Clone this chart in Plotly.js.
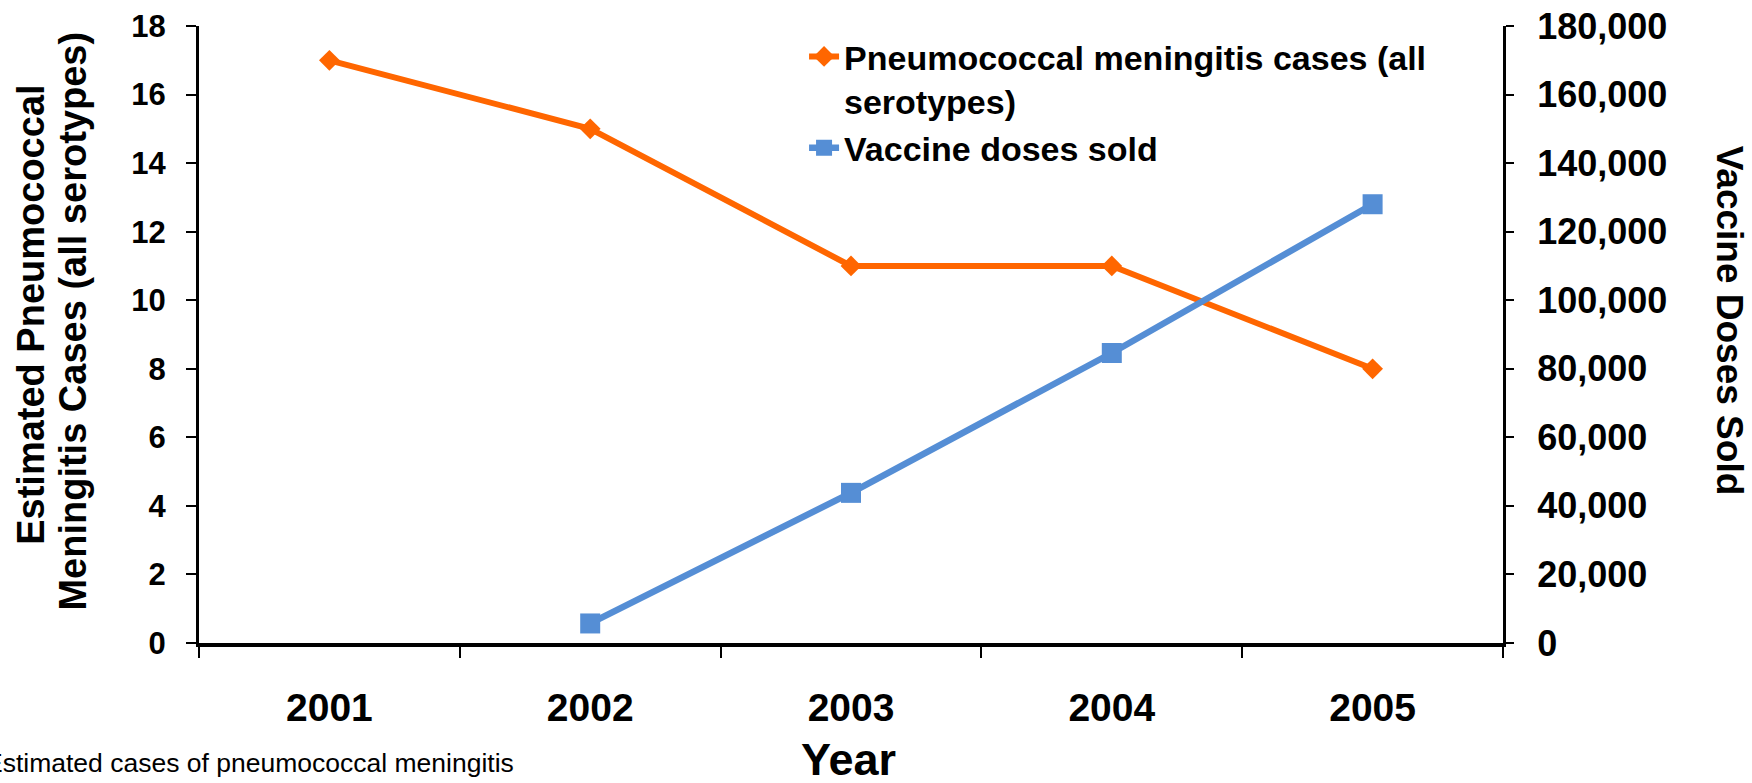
<!DOCTYPE html>
<html>
<head>
<meta charset="utf-8">
<script src="https://cdn.plot.ly/plotly-3.0.1.min.js"></script>
<style>
  html, body { margin: 0; padding: 0; background: #ffffff; }
  #chart { width: 1752px; height: 783px; }
</style>
</head>
<body>
<div id="chart"></div>
<script>
// Data
const years = ["2001", "2002", "2003", "2004", "2005"];
const meningitisCases = [17, 15, 11, 11, 8];
const vaccineYears = ["2002", "2003", "2004", "2005"];
const vaccineDoses = [5700, 43800, 84600, 128000];

const seriesNames = ["Pneumococcal meningitis cases (all<br>serotypes)", "Vaccine doses sold"];
const leftTicks = [0, 2, 4, 6, 8, 10, 12, 14, 16, 18];
const rightTicks = [0, 20000, 40000, 60000, 80000, 100000, 120000, 140000, 160000, 180000];
const leftTitleLines = ["Estimated Pneumococcal", "Meningitis Cases (all serotypes)"];
const rightTitle = "Vaccine Doses Sold";
const xTitle = "Year";
const caption = "Estimated cases of pneumococcal meningitis";

const FONT = "'Liberation Sans', Arial, sans-serif";
const ORANGE = "#FF6600";
const BLUE = "#558ED5";

const traces = [
  {
    x: years,
    y: meningitisCases,
    name: seriesNames[0],
    type: "scatter",
    mode: "lines+markers",
    line: { color: ORANGE, width: 6 },
    marker: { color: ORANGE, symbol: "diamond", size: 16 },
    yaxis: "y"
  },
  {
    x: vaccineYears,
    y: vaccineDoses,
    name: seriesNames[1],
    type: "scatter",
    mode: "lines+markers",
    line: { color: BLUE, width: 6.5 },
    marker: { color: BLUE, symbol: "square", size: 20 },
    yaxis: "y2"
  }
];

const titleFont = (size) => ({ family: FONT, size: size, weight: "bold", color: "#000000" });

const layout = {
  width: 1752,
  height: 783,
  paper_bgcolor: "#ffffff",
  plot_bgcolor: "#ffffff",
  margin: { l: 199, r: 249, t: 26, b: 140, pad: 0 },
  font: { family: FONT, color: "#000000" },
  showlegend: true,
  legend: {
    x: 0.464, y: 0.997, xanchor: "left", yanchor: "top",
    bgcolor: "rgba(0,0,0,0)",
    font: titleFont(34),
    valign: "top",
    tracegroupgap: 0
  },
  xaxis: {
    type: "category",
    categoryorder: "array",
    categoryarray: years,
    range: [-0.5, 4.5],
    showline: true, linecolor: "#000000", linewidth: 4,
    showgrid: false, zeroline: false,
    ticks: "outside", tickson: "boundaries", ticklen: 11, tickwidth: 2, tickcolor: "#000000",
    tickfont: titleFont(39),
    ticklabelstandoff: 27
  },
  yaxis: {
    range: [0, 18],
    tickvals: leftTicks,
    showline: true, linecolor: "#000000", linewidth: 3,
    showgrid: false, zeroline: false,
    ticks: "outside", ticklen: 10, tickwidth: 2, tickcolor: "#000000",
    tickfont: titleFont(31),
    ticklabelstandoff: 14
  },
  yaxis2: {
    overlaying: "y",
    side: "right",
    range: [0, 180000],
    tickvals: rightTicks,
    tickformat: ",d",
    showline: true, linecolor: "#000000", linewidth: 3,
    showgrid: false, zeroline: false,
    ticks: "outside", ticklen: 8, tickwidth: 2, tickcolor: "#000000",
    tickfont: titleFont(36),
    ticklabelstandoff: 16
  },
  annotations: [
    {
      text: leftTitleLines[0], textangle: -90,
      xref: "paper", yref: "paper", x: -0.1288, y: 0.532,
      xanchor: "center", yanchor: "middle", showarrow: false,
      font: titleFont(38)
    },
    {
      text: leftTitleLines[1], textangle: -90,
      xref: "paper", yref: "paper", x: -0.0966, y: 0.521,
      xanchor: "center", yanchor: "middle", showarrow: false,
      font: titleFont(38)
    },
    {
      text: rightTitle, textangle: 90,
      xref: "paper", yref: "paper", x: 1.1735, y: 0.522,
      xanchor: "center", yanchor: "middle", showarrow: false,
      font: titleFont(37)
    },
    {
      text: xTitle,
      xref: "paper", yref: "paper", x: 0.4977, y: -0.189,
      xanchor: "center", yanchor: "middle", showarrow: false,
      font: titleFont(45)
    },
    {
      text: caption,
      xref: "paper", yref: "paper",
      x: -0.1655, y: -0.194,
      xanchor: "left", yanchor: "middle",
      showarrow: false,
      font: { family: FONT, size: 26.5, color: "#000000" }
    }
  ]
};

Plotly.newPlot("chart", traces, layout, { displayModeBar: false, staticPlot: true });
</script>
</body>
</html>
